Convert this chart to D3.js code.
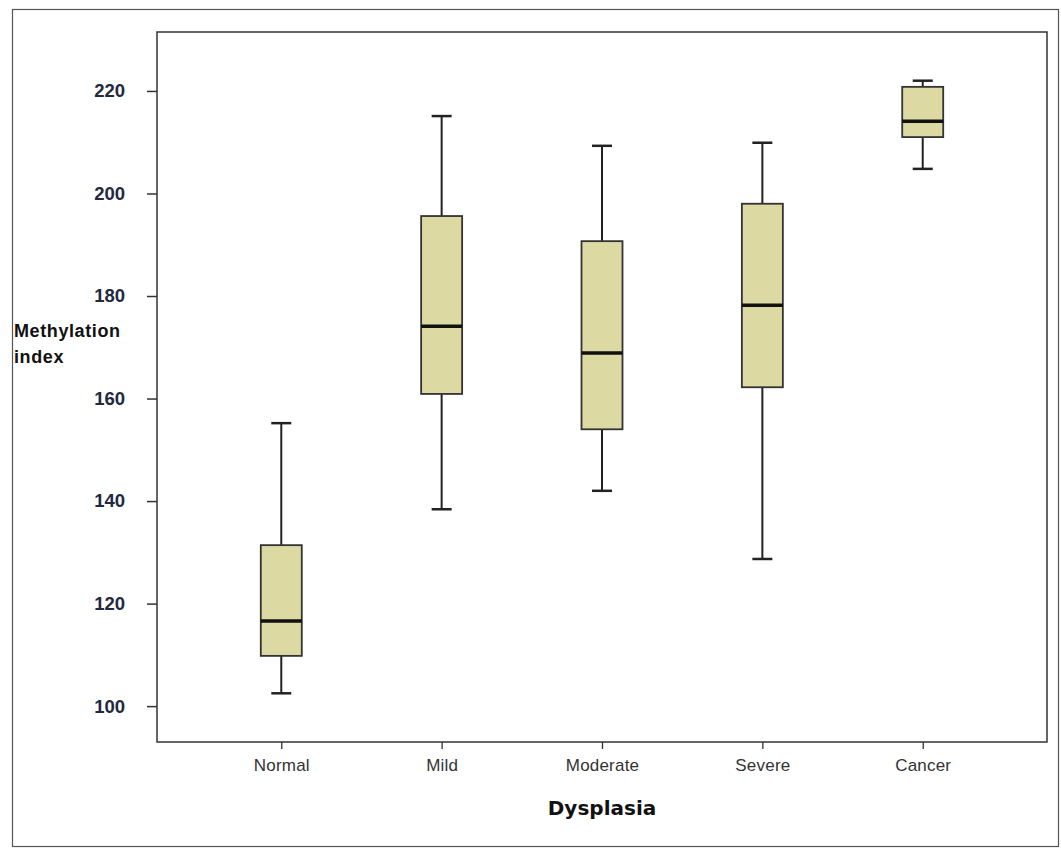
<!DOCTYPE html>
<html>
<head>
<meta charset="utf-8">
<script src="https://cdn.jsdelivr.net/npm/d3@7"></script>
<style>
  body { margin: 0; background: #fff; }
</style>
</head>
<body>
<div id="svgContainer"></div>
<script>
// box plot values
var categories = ["Normal", "Mild", "Moderate", "Severe", "Cancer"]
var whiskerLow = [102.5, 138.4, 142.0, 128.7, 204.8]
var q1 = [109.8, 160.9, 154.0, 162.2, 211.0]
var median = [116.6, 174.1, 168.9, 178.2, 214.1]
var q3 = [131.4, 195.6, 190.7, 198.0, 220.8]
var whiskerHigh = [155.2, 215.1, 209.3, 209.9, 222.0]
var yTicks = [100, 120, 140, 160, 180, 200, 220]

function drawBoxPlot() {
    let width = 1061, height = 851;
    var margin = { top: 32, right: 14, bottom: 109, left: 157 },
        plot_width = width - margin.left - margin.right,
        plot_height = height - margin.top - margin.bottom;

    var rows = categories.map((c, i) => ({
        cat: c, lo: whiskerLow[i], q1: q1[i], med: median[i], q3: q3[i], hi: whiskerHigh[i]
    }))

    var root = d3.select("#svgContainer")
        .append("svg")
        .attr("width", width)
        .attr("height", height);

    // outer frame
    root.append("rect")
        .attr("x", 12.5).attr("y", 9.5)
        .attr("width", 1046).attr("height", 837)
        .attr("fill", "none")
        .attr("stroke", "#555")
        .attr("stroke-width", 1.2);

    var svg = root.append("g")
        .attr("transform", `translate(${margin.left},${margin.top})`);

    var xScale = d3.scalePoint()
        .domain(categories)
        .range([0, plot_width])
        .padding(0.775);
    var yScale = d3.scaleLinear()
        .domain([93, 231.5])
        .range([plot_height, 0]);

    // plot frame
    svg.append("rect")
        .attr("x", 0).attr("y", 0)
        .attr("width", plot_width).attr("height", plot_height)
        .attr("fill", "none")
        .attr("stroke", "#333")
        .attr("stroke-width", 1.5);

    // y axis
    var yAxis = svg.append("g")
        .attr("class", "axis axis-y")
        .call(d3.axisLeft(yScale).tickValues(yTicks).tickSize(10).tickPadding(22));
    yAxis.select(".domain").remove();
    yAxis.selectAll("line").attr("stroke", "#333").attr("stroke-width", 1.5);
    yAxis.selectAll("text")
        .attr("fill", "#23283f")
        .style("font-family", "Arial, 'Liberation Sans', sans-serif")
        .style("font-weight", "bold")
        .style("font-size", "18.5px");

    // x axis
    var xAxis = svg.append("g")
        .attr("class", "axis axis-x")
        .attr("transform", "translate(0," + plot_height + ")")
        .call(d3.axisBottom(xScale).tickSize(7).tickPadding(10));
    xAxis.select(".domain").remove();
    xAxis.selectAll("line").attr("stroke", "#333").attr("stroke-width", 1.3);
    xAxis.selectAll("text")
        .attr("fill", "#333")
        .style("font-family", "Arial, 'Liberation Sans', sans-serif")
        .style("font-size", "17px")
        .style("letter-spacing", "0.2px");

    // axis titles
    var yTitle = root.append("text")
        .attr("x", 14)
        .attr("y", 337)
        .attr("fill", "#111")
        .style("font-family", "Arial, 'Liberation Sans', sans-serif")
        .style("font-weight", "bold")
        .style("font-size", "18px")
        .style("letter-spacing", "0.6px");
    yTitle.append("tspan").attr("x", 14).text("Methylation");
    yTitle.append("tspan").attr("x", 14).attr("dy", 26).text("index");

    root.append("text")
        .attr("x", margin.left + xScale("Moderate"))
        .attr("y", 815)
        .attr("text-anchor", "middle")
        .attr("fill", "#111")
        .style("font-family", "'DejaVu Sans', sans-serif")
        .style("font-weight", "bold")
        .style("font-size", "20px")
        .text("Dysplasia");

    // boxes
    var boxW = 41, capW = 20;
    var g = svg.selectAll(".box")
        .data(rows)
        .enter()
        .append("g")
        .attr("class", "box")
        .attr("transform", d => `translate(${xScale(d.cat)},0)`);

    g.append("line")
        .attr("x1", 0).attr("x2", 0)
        .attr("y1", d => yScale(d.hi)).attr("y2", d => yScale(d.q3))
        .attr("stroke", "#222").attr("stroke-width", 2);
    g.append("line")
        .attr("x1", 0).attr("x2", 0)
        .attr("y1", d => yScale(d.q1)).attr("y2", d => yScale(d.lo))
        .attr("stroke", "#222").attr("stroke-width", 2);
    g.append("line")
        .attr("x1", -capW / 2).attr("x2", capW / 2)
        .attr("y1", d => yScale(d.hi)).attr("y2", d => yScale(d.hi))
        .attr("stroke", "#222").attr("stroke-width", 2.5);
    g.append("line")
        .attr("x1", -capW / 2).attr("x2", capW / 2)
        .attr("y1", d => yScale(d.lo)).attr("y2", d => yScale(d.lo))
        .attr("stroke", "#222").attr("stroke-width", 2.5);
    g.append("rect")
        .attr("x", -boxW / 2)
        .attr("y", d => yScale(d.q3))
        .attr("width", boxW)
        .attr("height", d => yScale(d.q1) - yScale(d.q3))
        .attr("fill", "#dcd9a3")
        .attr("stroke", "#333")
        .attr("stroke-width", 1.8);
    g.append("line")
        .attr("x1", -boxW / 2).attr("x2", boxW / 2)
        .attr("y1", d => yScale(d.med)).attr("y2", d => yScale(d.med))
        .attr("stroke", "#111").attr("stroke-width", 3.5);
}
drawBoxPlot();
</script>
</body>
</html>
